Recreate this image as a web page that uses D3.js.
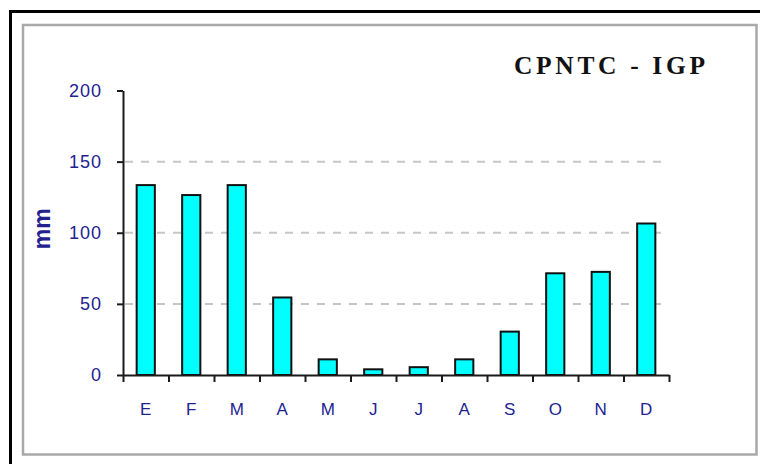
<!DOCTYPE html>
<html>
<head>
<meta charset="utf-8">
<script src="https://cdn.jsdelivr.net/npm/d3@7"></script>
<style>
  body { margin: 0; background: #fff; }
  svg { display: block; }
</style>
</head>
<body>
<div id="chart"></div>
<script>
// monthly rainfall (mm)
var months = ["E", "F", "M", "A", "M", "J", "J", "A", "S", "O", "N", "D"];
var rainfall = [133.5, 126.5, 133.5, 54.5, 11, 4, 5.5, 11, 30.5, 71.5, 72.5, 106.5];
var yTicks = [0, 50, 100, 150, 200];
var gridTicks = [50, 100, 150];
var title = "CPNTC - IGP";
var yLabel = "mm";

var W = 760, H = 464;
var margin = { top: 90.5, right: 91, bottom: 89, left: 123 },
  width = W - margin.left - margin.right,
  height = H - margin.top - margin.bottom;

var svg = d3.select("#chart")
  .append("svg")
  .attr("width", W)
  .attr("height", H);

// outer black frame and inner grey frame
svg.append("rect")
  .attr("x", 10.5).attr("y", 11.5)
  .attr("width", 800).attr("height", 500)
  .attr("fill", "none")
  .attr("stroke", "#000")
  .attr("stroke-width", 3);

svg.append("rect")
  .attr("x", 23).attr("y", 25)
  .attr("width", 733.5).attr("height", 429.5)
  .attr("fill", "#fff")
  .attr("stroke", "#a9a9a9")
  .attr("stroke-width", 2.5);

var g = svg.append("g")
  .attr("transform", "translate(" + margin.left + "," + margin.top + ")");

var idx = d3.range(months.length);

var x = d3.scaleBand()
  .domain(idx)
  .range([0, width])
  .paddingInner(0.6)
  .paddingOuter(0.3);

var xEdge = d3.scaleLinear()
  .domain([0, months.length])
  .range([0, width]);

var y = d3.scaleLinear()
  .domain([0, 200])
  .range([height, 0]);

// dashed gridlines
g.selectAll(".grid")
  .data(gridTicks)
  .enter()
  .append("line")
  .attr("class", "grid")
  .attr("x1", 0)
  .attr("x2", width)
  .attr("y1", function (d) { return y(d); })
  .attr("y2", function (d) { return y(d); })
  .attr("stroke", "#c6c6c6")
  .attr("stroke-width", 2)
  .attr("stroke-dasharray", "8,8")
  .attr("stroke-dashoffset", -2);

// bars
g.selectAll(".bar")
  .data(rainfall)
  .enter()
  .append("rect")
  .attr("class", "bar")
  .attr("x", function (d, i) { return x(i); })
  .attr("y", function (d) { return y(d); })
  .attr("width", x.bandwidth())
  .attr("height", function (d) { return height - y(d); })
  .attr("fill", "#00ffff")
  .attr("stroke", "#111")
  .attr("stroke-width", 2);

// x axis: tick marks at category edges
var xTickAxis = g.append("g")
  .attr("transform", "translate(0," + height + ")")
  .call(d3.axisBottom(xEdge)
    .tickValues(d3.range(months.length + 1))
    .tickSize(7)
    .tickSizeOuter(0)
    .tickFormat(""));

// x axis: month labels at centres
var xLabelAxis = g.append("g")
  .attr("transform", "translate(0," + height + ")")
  .call(d3.axisBottom(x)
    .tickSize(0)
    .tickPadding(28)
    .tickFormat(function (i) { return months[i]; }));
xLabelAxis.select(".domain").remove();

// y axis
var yAxis = g.append("g")
  .call(d3.axisLeft(y)
    .tickValues(yTicks)
    .tickSize(6)
    .tickSizeOuter(0)
    .tickPadding(15));

g.selectAll(".domain, .tick line")
  .attr("stroke", "#1a1a1a")
  .attr("stroke-width", 2);

g.selectAll(".tick text")
  .attr("fill", "#22228f")
  .style("font-family", "'Liberation Sans', Arial, sans-serif");

xLabelAxis.selectAll("text")
  .style("font-size", "17px");

yAxis.selectAll("text")
  .style("font-size", "18px")
  .attr("letter-spacing", "1px");

// y axis title
svg.append("text")
  .attr("transform", "translate(50," + (margin.top + height / 2 - 4) + ")rotate(-90)")
  .style("text-anchor", "middle")
  .style("font-family", "'Liberation Sans', Arial, sans-serif")
  .style("font-size", "23px")
  .attr("font-weight", "bold")
  .attr("fill", "#22228f")
  .text(yLabel);

// chart title
svg.append("text")
  .attr("x", 514)
  .attr("y", 73.5)
  .style("font-family", "'Liberation Serif', 'Times New Roman', serif")
  .style("font-size", "25.5px")
  .attr("font-weight", "bold")
  .attr("fill", "#111")
  .attr("xml:space", "preserve")
  .attr("textLength", 191)
  .attr("lengthAdjust", "spacing")
  .text(title);
</script>
</body>
</html>
